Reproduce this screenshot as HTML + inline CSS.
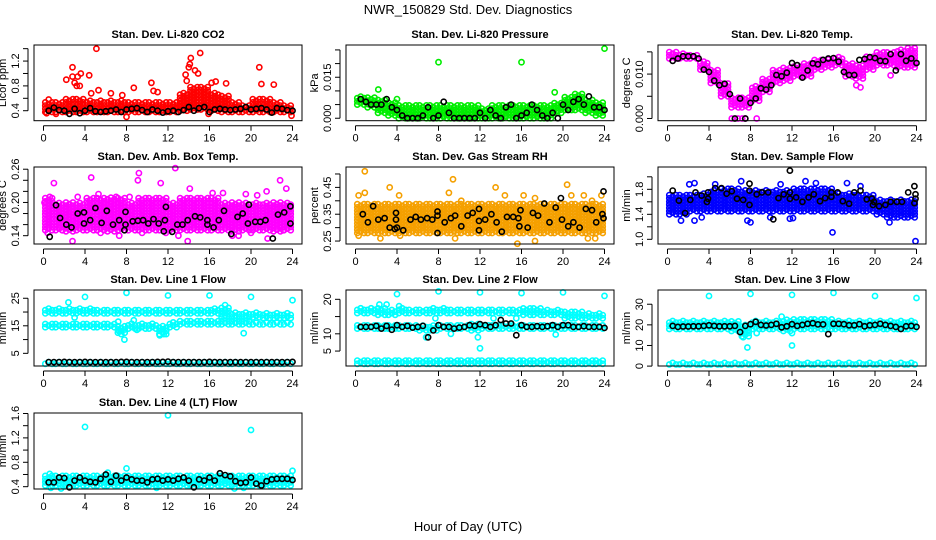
<!DOCTYPE html>
<html><head><meta charset="utf-8"><style>
html,body{margin:0;padding:0;background:#fff;}
svg{display:block;font-family:"Liberation Sans",sans-serif;}
</style></head><body>
<svg id="chart" width="936" height="540" viewBox="0 0 936 540" xmlns="http://www.w3.org/2000/svg">
<rect x="0" y="0" width="936" height="540" fill="#fff"/>
<text x="468" y="14" font-size="13" text-anchor="middle">NWR_150829  Std. Dev. Diagnostics</text>
<text x="468" y="531" font-size="13" text-anchor="middle">Hour of Day (UTC)</text>
</svg>
<script>
// ---------- data ----------
const xTicks = [0,4,8,12,16,20,24];
const blackHours = [0.5,1,1.5,2,2.5,3,3.5,4,4.5,5,5.5,6,6.5,7,7.5,8,8.5,9,9.5,10,10.5,11,11.5,12,12.5,13,13.5,14,14.5,15,15.5,16,16.5,17,17.5,18,18.5,19,19.5,20,20.5,21,21.5,22,22.5,23,23.5,24];

// Panel 1: CO2
const p1Lo = [0.38,0.38,0.38,0.38,0.38,0.38,0.38,0.38,0.38,0.38,0.38,0.38,0.38,0.4,0.42,0.42,0.4,0.38,0.38,0.38,0.38,0.38,0.38,0.38];
const p1Hi = [0.55,0.55,0.6,0.6,0.58,0.58,0.58,0.58,0.55,0.55,0.55,0.55,0.55,0.7,0.8,0.8,0.7,0.65,0.55,0.5,0.6,0.6,0.55,0.5];
const p1OutX = [0.5,2.2,2.8,2.8,3.0,3.3,3.6,3.5,3.2,4.4,5.1,5.3,4.6,6.5,7.6,8.7,8.0,10.4,10.6,11.0,13.7,13.8,14.0,14.2,14.1,14.6,15.1,14.9,15.9,16.2,16.6,17.6,20.8,21.0,22.2,23.9,0.3,1.2];
const p1OutY = [0.58,0.9,1.1,0.95,0.85,0.95,1.0,0.8,0.8,0.97,1.4,0.73,0.68,0.68,0.65,0.77,0.3,0.85,0.72,0.7,0.98,0.88,1.1,1.25,1.15,1.05,1.33,1.0,0.35,0.85,0.87,0.84,1.1,0.83,0.82,0.32,0.36,0.35];
const p1Black = [0.4,0.45,0.41,0.4,0.35,0.43,0.36,0.4,0.44,0.39,0.38,0.39,0.4,0.42,0.38,0.42,0.43,0.44,0.41,0.38,0.42,0.4,0.37,0.39,0.4,0.38,0.41,0.46,0.4,0.44,0.46,0.38,0.42,0.43,0.42,0.41,0.42,0.43,0.46,0.42,0.43,0.44,0.42,0.37,0.44,0.43,0.41,0.4];

// Panel 2: Pressure
const p2Lo = [0.005,0.004,0.002,0.001,0,0,0,0,0,0,0,0,0,0,0,0,0,0,0,0.002,0.003,0.003,0.002,0.001];
const p2Hi = [0.008,0.008,0.007,0.006,0.005,0.005,0.005,0.005,0.005,0.005,0.005,0.005,0.004,0.005,0.005,0.005,0.005,0.005,0.005,0.006,0.008,0.009,0.007,0.006];
const p2OutX = [8,16,24,2.2,4,19.2];
const p2OutY = [0.0205,0.0205,0.0255,0.0105,0.007,0.0095];
const p2Black = [0.007,0.006,0.005,0.005,0.005,0.007,0.004,0.003,0.001,0,0,0,0.001,0.004,0,0.001,0.006,0.002,0,0,0,0,0,0.002,0,0.003,0.001,0,0.004,0.005,0,0.001,0.002,0.005,0.003,0.001,0,0.002,0,0.005,0.003,0.006,0.007,0.005,0.008,0.004,0.004,0.003];

// Panel 3: Li-820 Temp
const p3Lo = [0.0135,0.0135,0.0135,0.011,0.008,0.005,0.0025,0.0025,0.004,0.006,0.008,0.0085,0.0095,0.0095,0.011,0.0115,0.012,0.0095,0.009,0.011,0.012,0.012,0.0115,0.0115];
const p3Hi = [0.015,0.0148,0.0145,0.013,0.011,0.008,0.005,0.005,0.0075,0.009,0.011,0.0115,0.012,0.0125,0.0135,0.0135,0.014,0.0125,0.012,0.014,0.015,0.015,0.0155,0.016];
const p3OutX = [6.2,6.8,7.2,7.5,8.6,18.6,18.2,21.5,23.8];
const p3OutY = [0,0,0,0,0,0.007,0.0075,0.0097,0.0125];
const p3Black = [0.013,0.0135,0.014,0.014,0.014,0.0135,0.011,0.0105,0.0085,0.0075,0.0078,0.0055,0,0.0045,0,0.0035,0.0045,0.0068,0.0065,0.0075,0.0098,0.0095,0.0103,0.0125,0.012,0.0092,0.0108,0.0124,0.0122,0.0132,0.0135,0.0136,0.0128,0.0105,0.0098,0.0098,0.0132,0.0134,0.0138,0.0136,0.013,0.0129,0.0145,0.0108,0.0145,0.013,0.0135,0.0125];

// Panel 4: Amb box temp
const p4Lo = [0.15,0.15,0.148,0.15,0.15,0.15,0.148,0.15,0.15,0.15,0.15,0.15,0.15,0.15,0.15,0.15,0.15,0.15,0.148,0.15,0.15,0.15,0.148,0.15];
const p4Hi = [0.21,0.2,0.2,0.2,0.21,0.21,0.21,0.21,0.2,0.21,0.21,0.21,0.2,0.21,0.21,0.21,0.21,0.2,0.2,0.2,0.2,0.2,0.2,0.2];
const p4OutX = [0.1,0.6,1.0,0.4,1.8,2.8,3.3,4.6,5.3,5.5,7.0,7.3,8.3,9.1,9.2,9.5,11.3,11.8,12.7,13.0,13.9,14.1,16.3,17.3,18.2,18.8,19.5,20.0,20.6,21.5,21.6,22.8,23.1,23.4];
const p4OutY = [0.2,0.21,0.235,0.145,0.15,0.13,0.21,0.245,0.215,0.145,0.21,0.14,0.21,0.24,0.253,0.145,0.235,0.145,0.262,0.14,0.13,0.225,0.217,0.217,0.14,0.14,0.215,0.145,0.213,0.22,0.135,0.24,0.15,0.225];
const p4BlackX = [0.6,1.2,1.6,2.2,2.7,3.3,3.9,3.9,4.5,5.0,5.6,6.1,6.7,7.3,7.9,7.9,7.8,8.6,9.1,9.6,10.1,10.6,11.1,11.7,11.8,11.6,12.4,12.9,13.4,13.9,14.6,15.1,15.8,15.8,16.4,16.9,17.4,18.1,18.7,19.2,19.8,19.7,20.4,20.9,21.4,22.1,22.6,23.2,23.8,23.8];
const p4BlackY = [0.138,0.195,0.172,0.16,0.155,0.18,0.182,0.162,0.168,0.19,0.163,0.185,0.16,0.168,0.183,0.16,0.15,0.166,0.167,0.168,0.162,0.17,0.162,0.168,0.192,0.148,0.147,0.16,0.16,0.168,0.175,0.173,0.168,0.16,0.155,0.168,0.185,0.143,0.174,0.18,0.196,0.162,0.165,0.165,0.168,0.135,0.178,0.182,0.193,0.162];

// Panel 5: Gas stream RH
const p5Lo = [0.28,0.28,0.28,0.28,0.28,0.28,0.28,0.28,0.28,0.28,0.28,0.28,0.28,0.28,0.28,0.28,0.28,0.28,0.28,0.28,0.28,0.28,0.28,0.28];
const p5Hi = [0.39,0.39,0.39,0.39,0.39,0.39,0.39,0.39,0.39,0.39,0.39,0.39,0.39,0.39,0.39,0.39,0.39,0.39,0.39,0.39,0.39,0.39,0.39,0.39];
const p5OutX = [0.3,0.9,0.9,0.3,2.4,3.3,4.2,4.3,9.0,9.4,9.6,10.2,13.5,14.4,15.6,16.2,17.3,17.3,20.4,20.8,22.0,22.4,22.8,23.1,23.7];
const p5OutY = [0.42,0.43,0.51,0.27,0.26,0.45,0.42,0.27,0.43,0.48,0.26,0.4,0.45,0.42,0.24,0.42,0.41,0.25,0.46,0.42,0.42,0.26,0.4,0.26,0.42];
const p5BlackX = [0.7,1.2,1.7,2.2,2.8,3.3,3.8,3.9,3.9,4.0,4.6,5.3,5.8,6.3,6.9,7.4,7.9,7.9,7.9,8.6,9.2,9.6,10.2,10.8,11.3,11.9,11.9,11.9,12.5,13.1,13.6,14.1,14.6,15.2,15.7,15.8,15.9,16.6,17.1,17.6,18.2,18.7,19.3,19.8,19.9,20.5,21.0,21.6,22.2,22.8,23.2,23.8,23.9,23.9];
const p5BlackY = [0.35,0.32,0.38,0.33,0.335,0.3,0.295,0.355,0.33,0.3,0.29,0.33,0.34,0.33,0.335,0.33,0.36,0.345,0.28,0.32,0.335,0.345,0.305,0.345,0.355,0.37,0.325,0.29,0.33,0.35,0.32,0.285,0.34,0.34,0.335,0.305,0.365,0.3,0.355,0.345,0.39,0.32,0.375,0.41,0.33,0.305,0.32,0.3,0.37,0.365,0.32,0.35,0.335,0.435];

// Panel 6: Sample flow
const p6Lo = [1.4,1.4,1.45,1.45,1.45,1.45,1.45,1.45,1.45,1.45,1.45,1.45,1.45,1.45,1.45,1.45,1.45,1.45,1.45,1.45,1.4,1.35,1.35,1.35];
const p6Hi = [1.72,1.72,1.72,1.75,1.8,1.82,1.82,1.8,1.8,1.8,1.8,1.8,1.82,1.82,1.82,1.82,1.75,1.75,1.72,1.72,1.65,1.65,1.65,1.65];
const p6OutX = [1.3,2.1,2.6,2.6,3.3,4.6,7.1,7.7,8.0,9.9,10.9,11.8,12.1,13.3,14.3,15.9,17.3,18.6,21.4,23.9];
const p6OutY = [1.3,1.88,1.9,1.3,1.35,1.88,1.93,1.3,1.27,1.35,1.88,1.33,1.34,1.93,1.9,1.11,1.9,1.85,1.27,0.97];
const p6BlackX = [0.5,1.1,1.7,2.2,2.7,3.3,3.9,3.8,3.9,4.6,5.2,5.7,6.2,6.7,7.3,7.9,7.9,7.9,8.6,9.1,9.7,10.2,10.7,11.2,11.8,11.8,11.8,12.4,13.0,13.6,14.1,14.7,15.2,15.8,15.8,16.4,16.9,17.5,18.0,18.6,19.2,19.7,19.8,19.9,20.4,21.0,21.5,22.1,22.6,23.2,23.8,23.9,23.8,23.9];
const p6BlackY = [1.78,1.62,1.42,1.63,1.75,1.7,1.75,1.6,1.65,1.82,1.82,1.73,1.77,1.65,1.63,1.89,1.78,1.55,1.72,1.75,1.75,1.32,1.66,1.72,2.1,1.75,1.65,1.67,1.6,1.67,1.72,1.61,1.66,1.75,1.68,1.75,1.61,1.57,1.75,1.78,1.64,1.65,1.55,1.6,1.53,1.55,1.6,1.6,1.6,1.75,1.85,1.72,1.58,1.65];

// Panel 7: Line 1 flow
const p7LoA = [19.5,19.5,19.5,19.5,19.5,19.5,19.5,19.5,19.5,19.5,19.5,19.5,19.5,19.5,19.5,19.5,19.5,18,18,18,18,17.8,17.8,17.8];
const p7HiA = [21.5,21.5,21.5,21.5,21.5,21,21,21,21,21,21,21,21,21,21,21,21.5,21.5,20,20,20,20,20,20];
const p7LoB = [14.5,14.5,14.5,14.5,14.5,14.5,14.5,12.5,14,14,14,12,14.5,15.5,15.5,15.5,15.5,15.5,15.5,15.5,15.5,15.5,15.5,15.5];
const p7HiB = [16,16,16,16,16,16,16,15,16,16,16,15,16.5,17,17,17,17,17,17,17,16.5,16.5,16.5,16.5];
const p7LoC = [1.2,1.2,1.2,1.2,1.2,1.2,1.2,1.2,1.2,1.2,1.2,1.2,1.2,1.2,1.2,1.2,1.2,1.2,1.2,1.2,1.2,1.2,1.2,1.2];
const p7HiC = [2,2,2,2,2,2,2,2,2,2,2,2,2,2,2,2,2,2,2,2,2,2,2,2];
const p7OutX = [4,8,12,16,20,24,7.8,2.4,19.3,7.3,7.5,7.2,11.2,11.6,17.5,3.0,9.0,8.7];
const p7OutY = [25.5,27,26,26,25.5,24.3,10,23.5,12.3,13,12,16.5,11.5,12,22.5,18,13.5,17];
const p7Black = [1.8,1.8,1.8,1.9,1.8,1.8,1.8,1.9,1.8,1.8,1.8,1.8,1.8,1.8,1.9,1.9,1.8,1.8,1.8,1.8,1.8,1.9,1.9,2.0,1.8,1.8,1.8,1.8,1.8,1.8,1.8,1.9,1.8,1.8,1.8,1.8,1.8,1.8,1.8,1.8,1.8,1.8,1.8,1.8,1.8,1.8,1.8,1.9];

// Panel 8: Line 2 flow
const p8LoA = [16,16,15.5,15.5,16,16,16,16,16,16,16,16,16,16,16,16,15.5,15.5,15.5,15.5,14.5,14.5,14.5,14.5];
const p8HiA = [17.5,17.5,17.5,17,17.5,17,17,17.5,17.5,17,17,17,17,17,17,17,17.5,17.5,17,17,16.5,16.5,16,16];
const p8LoB = [11.5,11.5,11.5,11.5,11.5,11.5,11,11,11.5,11.5,11.5,11,11.5,11.5,11.5,11.5,11.5,11.5,11.5,11.5,11.5,11.5,11.5,11.5];
const p8HiB = [12.8,12.8,12.8,12.8,12.8,12.8,12.8,12.8,12.8,12.8,12.8,13,12.8,12.8,12.8,12.8,12.8,12.8,12.8,12.8,12.8,12.8,12.8,12.8];
const p8LoC = [1.3,1.3,1.3,1.3,1.3,1.3,1.3,1.3,1.3,1.3,1.3,1.3,1.3,1.3,1.3,1.3,1.3,1.3,1.3,1.3,1.3,1.3,1.3,1.3];
const p8HiC = [2.5,2.5,2.5,2.5,2.5,2.5,2.5,2.5,2.5,2.5,2.5,2.5,2.5,2.5,2.5,2.5,2.5,2.5,2.5,2.5,2.5,2.5,2.5,2.5];
const p8OutX = [4,8,12,16,20,24,2.3,3,4.2,6.8,12,19.3,11.8,7.7,13.3,15.5,9.2];
const p8OutY = [21.5,22.3,22,21.8,22,21,18.5,18.5,18,9,5.8,9.8,9,14.5,14.5,14.5,10];
const p8Black = [12,12,12,12.3,11.5,12.3,11.2,12.5,12,12.3,11.8,12,12.3,9.0,11,12.5,12,12,11.5,11.8,12,12.5,12.3,12.8,12.5,12,12.5,14,13,13,9.6,12.5,12,12,12.2,12,12.2,12.5,12,12.5,12.5,12,12,12.2,12,12,12,11.7];

// Panel 9: Line 3 flow
const p9LoA = [18,18,18,18,18,18,17,14.5,18,18,18,17,18,18,18,18,18,18,18,18,18,18,18,18];
const p9HiA = [22,22,22,22,22,22,22,20,22,22,22.5,22.5,23,23,23,23,22.5,22.5,22,22,22,22,22,22];
const p9LoB = [0.8,0.8,0.8,0.8,0.8,0.8,0.8,0.8,0.8,0.8,0.8,0.8,0.8,0.8,0.8,0.8,0.8,0.8,0.8,0.8,0.8,0.8,0.8,0.8];
const p9HiB = [2.2,2.2,2.2,2.2,2.2,2.2,2.2,2.2,2.2,2.2,2.2,2.2,2.2,2.2,2.2,2.2,2.2,2.2,2.2,2.2,2.2,2.2,2.2,2.2];
const p9OutX = [4,8,12,16,20,24,7.7,12,11,7.3,8.6,12];
const p9OutY = [34,35,34.5,35.5,34,33,9,10,24,14,16,16];
const p9Black = [19.5,19,19.2,19.2,19.3,19.3,19.5,19.8,19.5,19.3,19.3,19.3,19.5,16.5,19.5,20.3,21.5,20,19.7,20,20.5,18.8,19.3,20.3,19.5,20,20.5,20.8,20.2,20.2,15.5,20.5,20.5,20.3,19.8,19.8,20.3,19.3,19.8,20,20.5,20,19.5,19,18,19.3,19.5,19];

// Panel 10: Line 4 (LT) flow
const p10Lo = [0.42,0.42,0.42,0.42,0.42,0.42,0.42,0.42,0.42,0.42,0.42,0.42,0.42,0.42,0.42,0.42,0.42,0.42,0.42,0.42,0.42,0.42,0.42,0.42];
const p10Hi = [0.58,0.58,0.58,0.58,0.58,0.58,0.58,0.6,0.58,0.58,0.58,0.58,0.58,0.58,0.58,0.58,0.58,0.58,0.58,0.58,0.58,0.58,0.58,0.58];
const p10OutX = [4,12,20,0.7,1.7,8,24,18.4,19.3,10.9,0.6,6.2];
const p10OutY = [1.38,1.57,1.33,0.38,0.37,0.7,0.66,0.37,0.38,0.38,0.61,0.63];
const p10Black = [0.47,0.47,0.55,0.54,0.39,0.5,0.55,0.5,0.48,0.47,0.53,0.6,0.48,0.58,0.5,0.55,0.52,0.5,0.5,0.47,0.52,0.53,0.5,0.52,0.5,0.53,0.55,0.5,0.39,0.52,0.5,0.55,0.5,0.62,0.59,0.57,0.49,0.46,0.47,0.55,0.45,0.42,0.49,0.52,0.53,0.53,0.53,0.51];

// ---------- rendering ----------
const NS = 'http://www.w3.org/2000/svg';
const svg = document.getElementById('chart');
const colLeft = [34,346,658];
const rows = [[45,120.7],[167,244],[290,366],[413,489]];
const W = 268;

function mk(tag, parent){ const e = document.createElementNS(NS, tag); parent.appendChild(e); return e; }

function panel(cfg){
  const L = colLeft[cfg.col], T = rows[cfg.row][0], B = rows[cfg.row][1];
  const xs = h => L + 9.5 + h/24*249;
  const ys = v => B - (v - cfg.dom[0])/(cfg.dom[1]-cfg.dom[0])*(B-T);
  const g = mk('g', svg);
  
  
  const title = mk('text', g);
  
  
  title.setAttribute('x', L + W/2); title.setAttribute('y', T - 7);
  title.setAttribute('font-size', '11'); title.setAttribute('font-weight', 'bold');
  title.setAttribute('text-anchor', 'middle'); title.textContent = cfg.title;
  const plot = mk('g', g);
  
  
  function circ(x, y, color){
    const c = mk('circle', plot);
    c.setAttribute('cx', x.toFixed(1)); c.setAttribute('cy', y.toFixed(1)); c.setAttribute('r', '2.6');
    c.setAttribute('fill', 'none'); c.setAttribute('stroke', color); c.setAttribute('stroke-width', '1.6');
  }
  (cfg.bands||[]).forEach(b => {
    for (let h = 0; h < 24; h++){
      const y1 = ys(b[0][h]), y2 = ys(b[1][h]);
      [0.17,0.5,0.83].forEach((s,k) => {
        for (let y = y1 - (k%2?1.6:0); y >= y2 - 0.01; y -= 3.2) circ(xs(h+s), y, cfg.color);
      });
    }
  });
  cfg.outX.forEach((x,i) => circ(xs(x), ys(cfg.outY[i]), cfg.color));
  cfg.bx.forEach((x,i) => circ(xs(x), ys(cfg.by[i]), '#000'));
  // frame
  const fr = mk('rect', g);
  
  
  fr.setAttribute('x', L); fr.setAttribute('y', T); fr.setAttribute('width', W); fr.setAttribute('height', B-T);
  fr.setAttribute('fill', 'none'); fr.setAttribute('stroke', '#000'); fr.setAttribute('stroke-width', '1');
  // x axis
  const xa = mk('g', g);
  
  
  const xl = mk('line', xa);
  xl.setAttribute('x1', xs(0)); xl.setAttribute('x2', xs(24)); xl.setAttribute('y1', B+5); xl.setAttribute('y2', B+5);
  xl.setAttribute('stroke', '#000');
  xTicks.forEach(t => {
    const tl = mk('line', xa);
    tl.setAttribute('x1', xs(t)); tl.setAttribute('x2', xs(t)); tl.setAttribute('y1', B+5); tl.setAttribute('y2', B+10);
    tl.setAttribute('stroke', '#000');
    const tx = mk('text', xa);
    
    
    tx.setAttribute('x', xs(t)); tx.setAttribute('y', B+21); tx.setAttribute('font-size', '11');
    tx.setAttribute('text-anchor', 'middle'); tx.textContent = t;
  });
  // y axis
  const ya = mk('g', g);
  
  
  const t0 = cfg.yTicks[0], t1 = cfg.yTicks[cfg.yTicks.length-1];
  const yl = mk('line', ya);
  yl.setAttribute('x1', L-6); yl.setAttribute('x2', L-6); yl.setAttribute('y1', ys(t0)); yl.setAttribute('y2', ys(t1));
  yl.setAttribute('stroke', '#000');
  cfg.yTicks.forEach(t => {
    const tl = mk('line', ya);
    tl.setAttribute('x1', L-11); tl.setAttribute('x2', L-6); tl.setAttribute('y1', ys(t)); tl.setAttribute('y2', ys(t));
    tl.setAttribute('stroke', '#000');
  });
  cfg.yLabels.forEach((lab,i) => {
    const v = cfg.yLabelVals[i];
    const tx = mk('text', ya);
    
    
    const x = L-15, y = ys(v);
    tx.setAttribute('transform', `translate(${x},${y}) rotate(-90)`);
    tx.setAttribute('font-size', '11'); tx.setAttribute('text-anchor', 'middle'); tx.textContent = lab;
  });
  const yt = mk('text', ya);
  
  
  yt.setAttribute('transform', `translate(${L-28},${(T+B)/2}) rotate(-90)`);
  yt.setAttribute('font-size', '11'); yt.setAttribute('text-anchor', 'middle'); yt.textContent = cfg.yTitle;
}

panel({name:'panel-co2', col:0,row:0,title:'Stan. Dev. Li-820 CO2',color:'#ff0000',dom:[0.239,1.459],
  bands:[[p1Lo,p1Hi]],outX:p1OutX,outY:p1OutY,bx:blackHours,by:p1Black,
  yTicks:[0.4,0.6,0.8,1.0,1.2,1.4],yLabelVals:[0.4,0.8,1.2],yLabels:['0.4','0.8','1.2'],yTitle:'Licor ppm'});
panel({name:'panel-pressure', col:1,row:0,title:'Stan. Dev. Li-820 Pressure',color:'#00ee00',dom:[-0.0009,0.0268],
  bands:[[p2Lo,p2Hi]],outX:p2OutX,outY:p2OutY,bx:blackHours,by:p2Black,
  yTicks:[0,0.005,0.01,0.015,0.02,0.025],yLabelVals:[0,0.015],yLabels:['0.000','0.015'],yTitle:'kPa'});
panel({name:'panel-li820-temp', col:2,row:0,title:'Stan. Dev. Li-820 Temp.',color:'#ff00ff',dom:[-0.0005,0.01655],
  bands:[[p3Lo,p3Hi]],outX:p3OutX,outY:p3OutY,bx:blackHours,by:p3Black,
  yTicks:[0,0.005,0.01,0.015],yLabelVals:[0,0.01],yLabels:['0.000','0.010'],yTitle:'degrees C'});
panel({name:'panel-amb-box-temp', col:0,row:1,title:'Stan. Dev. Amb. Box Temp.',color:'#ff00ff',dom:[0.125,0.264],
  bands:[[p4Lo,p4Hi]],outX:p4OutX,outY:p4OutY,bx:p4BlackX,by:p4BlackY,
  yTicks:[0.14,0.16,0.18,0.2,0.22,0.24,0.26],yLabelVals:[0.14,0.2,0.26],yLabels:['0.14','0.20','0.26'],yTitle:'degrees C'});
panel({name:'panel-gas-rh', col:1,row:1,title:'Stan. Dev. Gas Stream RH',color:'#f5a000',dom:[0.239,0.526],
  bands:[[p5Lo,p5Hi]],outX:p5OutX,outY:p5OutY,bx:p5BlackX,by:p5BlackY,
  yTicks:[0.25,0.3,0.35,0.4,0.45,0.5],yLabelVals:[0.25,0.35,0.45],yLabels:['0.25','0.35','0.45'],yTitle:'percent'});
panel({name:'panel-sample-flow', col:2,row:1,title:'Stan. Dev. Sample Flow',color:'#0000ff',dom:[0.925,2.157],
  bands:[[p6Lo,p6Hi]],outX:p6OutX,outY:p6OutY,bx:p6BlackX,by:p6BlackY,
  yTicks:[1.0,1.2,1.4,1.6,1.8,2.0],yLabelVals:[1.0,1.4,1.8],yLabels:['1.0','1.4','1.8'],yTitle:'ml/min'});
panel({name:'panel-line1-flow', col:0,row:2,title:'Stan. Dev. Line 1 Flow',color:'#00ffff',dom:[0.4,28],
  bands:[[p7LoA,p7HiA],[p7LoB,p7HiB],[p7LoC,p7HiC]],outX:p7OutX,outY:p7OutY,bx:blackHours,by:p7Black,
  yTicks:[5,10,15,20,25],yLabelVals:[5,15,25],yLabels:['5','15','25'],yTitle:'ml/min'});
panel({name:'panel-line2-flow', col:1,row:2,title:'Stan. Dev. Line 2 Flow',color:'#00ffff',dom:[0.67,22.7],
  bands:[[p8LoA,p8HiA],[p8LoB,p8HiB],[p8LoC,p8HiC]],outX:p8OutX,outY:p8OutY,bx:blackHours,by:p8Black,
  yTicks:[5,10,15,20],yLabelVals:[5,10,20],yLabels:['5','10','20'],yTitle:'ml/min'});
panel({name:'panel-line3-flow', col:2,row:2,title:'Stan. Dev. Line 3 Flow',color:'#00ffff',dom:[0.05,36.9],
  bands:[[p9LoA,p9HiA],[p9LoB,p9HiB]],outX:p9OutX,outY:p9OutY,bx:blackHours,by:p9Black,
  yTicks:[0,10,20,30],yLabelVals:[0,10,20,30],yLabels:['0','10','20','30'],yTitle:'ml/min'});
panel({name:'panel-line4-flow', col:0,row:3,title:'Stan. Dev. Line 4 (LT) Flow',color:'#00ffff',dom:[0.362,1.608],
  bands:[[p10Lo,p10Hi]],outX:p10OutX,outY:p10OutY,bx:blackHours,by:p10Black,
  yTicks:[0.4,0.6,0.8,1.0,1.2,1.4,1.6],yLabelVals:[0.4,0.8,1.2,1.6],yLabels:['0.4','0.8','1.2','1.6'],yTitle:'ml/min'});
</script>
</body></html>
